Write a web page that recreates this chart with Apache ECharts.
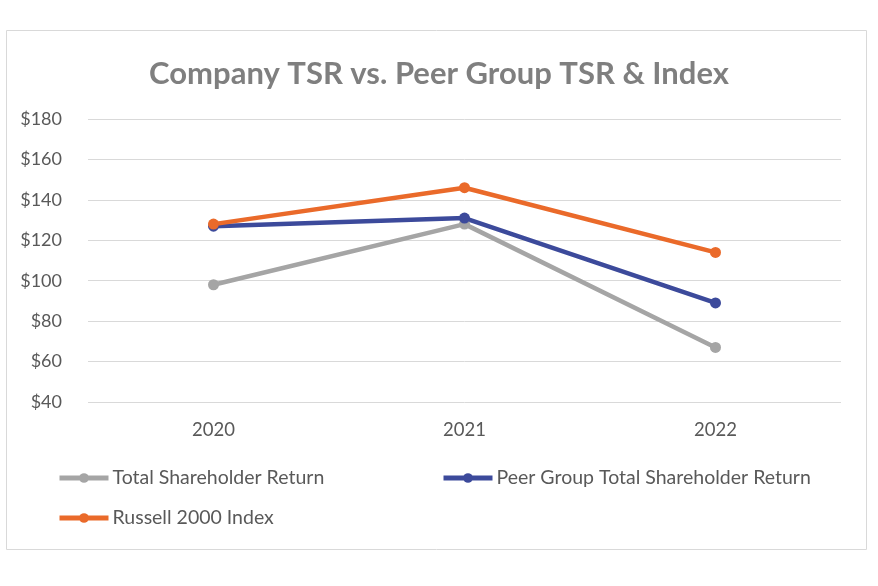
<!DOCTYPE html>
<html><head><meta charset="utf-8">
<script src="https://cdn.jsdelivr.net/npm/echarts@6/dist/echarts.min.js"></script>
<style>html,body{margin:0;padding:0;background:#fff}#c{width:878px;height:586px}</style>
</head><body><div id="c"></div>
<script>
const categories = ['2020', '2021', '2022'];
const tsr = [98, 128, 67];
const peerTsr = [127, 131, 89];
const russell = [128, 146, 114];
const seriesNames = ['Total Shareholder Return', 'Peer Group Total Shareholder Return', 'Russell 2000 Index'];

const chart = echarts.init(document.getElementById('c'), null, {renderer: 'canvas'});
const font = 'Lato, "Open Sans", sans-serif';
const mk = (name, data, color) => ({
  name, type: 'line', data,
  symbol: 'circle', symbolSize: 11,
  lineStyle: {width: 4.5, color},
  itemStyle: {color},
  animation: false
});
const legendItem = (left, top, name) => ({
  left, top, padding: 0, data: [name], itemWidth: 49, itemHeight: 12, itemGap: 4,
  lineStyle: {width: 5},
  textStyle: {fontFamily: font, fontSize: 19.5, color: '#595959', padding: [0, 0, 0, -1]}
});
chart.setOption({
  animation: false,
  title: {
    text: 'Company TSR vs. Peer Group TSR & Index',
    left: 'center', top: 53,
    textStyle: {fontFamily: font, fontSize: 31, fontWeight: 'bold', color: '#7f7f7f'}
  },
  graphic: [{
    type: 'rect', shape: {x: 6.5, y: 30.5, width: 860, height: 519},
    style: {fill: 'none', stroke: '#d9d9d9', lineWidth: 1}, z: -1
  }],
  grid: {left: 88, right: 37, top: 119, bottom: 184},
  xAxis: {
    type: 'category', data: categories, boundaryGap: true,
    axisLine: {show: false}, axisTick: {show: false},
    axisLabel: {fontFamily: font, fontSize: 18.5, color: '#595959', margin: 19}
  },
  yAxis: {
    type: 'value', min: 40, max: 180, interval: 20,
    axisLine: {show: false}, axisTick: {show: false},
    splitLine: {lineStyle: {color: '#d9d9d9', width: 1}},
    axisLabel: {fontFamily: font, fontSize: 18, color: '#595959', margin: 26, formatter: v => '$' + v}
  },
  legend: [
    legendItem(57, 468, seriesNames[0]),
    legendItem(441, 468, seriesNames[1]),
    legendItem(57, 508, seriesNames[2])
  ],
  series: [
    mk(seriesNames[0], tsr, '#a5a5a5'),
    mk(seriesNames[1], peerTsr, '#3c4a9b'),
    mk(seriesNames[2], russell, '#ea6a2a')
  ]
});
</script></body></html>
